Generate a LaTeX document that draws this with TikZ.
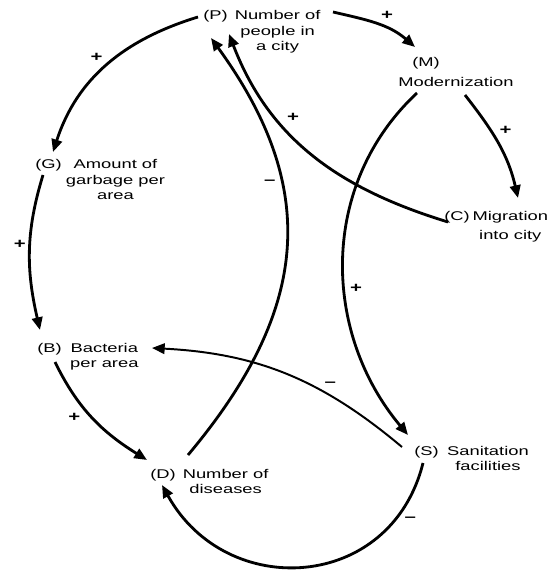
\documentclass[tikz,border=0pt]{standalone}
\usepackage{fontspec}
\setmainfont{Liberation Sans}[FakeStretch=1.45]
\usetikzlibrary{arrows.meta}

\begin{document}
\begin{tikzpicture}[x=0.025cm,y=0.025cm,auto,
		var/.style={anchor=base west,inner sep=0pt,font=\fontsize{9}{11}\selectfont},
		sign/.style={font=\bfseries\fontsize{10}{12}\selectfont,inner sep=2pt},
		marrow/.style={-{Triangle[length=9pt,width=7.5pt]},line width=2pt},
		tarrow/.style={marrow,line width=1.4pt}]
		\useasboundingbox (0,0) rectangle (553,-571);
		\node[var] (P) at (203,-20) {(P)\hspace{5pt}\begin{tabular}[t]{@{}c@{}}Number of\\people in\\a city\end{tabular}};
		\node[var] (M) at (398,-67) {\begin{tabular}[t]{@{}l@{}}\hspace*{10pt}(M)\\[3pt]Modernization\end{tabular}};
		\node[var] (G) at (35,-169) {(G)\hspace{3pt}\begin{tabular}[t]{@{}c@{}}Amount of\\garbage per\\area\end{tabular}};
		\node[var] (C) at (444,-220) {(C)\hspace{2pt}\begin{tabular}[t]{@{}c@{}}Migration\\[3pt]into city\end{tabular}};
		\node[var] (B) at (37,-352) {(B)\hspace{6pt}\begin{tabular}[t]{@{}c@{}}Bacteria\\per area\end{tabular}};
		\node[var] (S) at (414,-455) {(S)\hspace{6pt}\begin{tabular}[t]{@{}c@{}}Sanitation\\facilities\end{tabular}};
		\node[var] (D) at (150,-478) {(D)\hspace{5pt}\begin{tabular}[t]{@{}c@{}}Number of\\diseases\end{tabular}};

		% connection
		\draw [marrow] ([shift={(-5,3)}]P.base west) to [out=197,in=72] node [sign,swap] {+} ([shift={(18,17)}]G.base west);
		\draw [marrow] ([shift={(130,8)}]P.base west) to [out=-13,in=139] node [sign] {+} ([shift={(17,20)}]M.base west);
		\draw [marrow] ([shift={(67,-28)}]M.base west) to [out=-52,in=103] node [sign,pos=.45] {+} ([shift={(74,22)}]C.base west);
		\draw [marrow] ([shift={(19,-26)}]M.base west) to [out=223,in=130] node [sign,pos=.6] {+} ([shift={(-6,20)}]S.base west);
		\draw [marrow] ([shift={(4,-2)}]C.base west) to [out=163,in=291] node [sign,swap,pos=.65] {+} ([shift={(26,-14)}]P.base west);
		\draw [marrow] ([shift={(38,23)}]D.base west) to [out=50,in=306,looseness=1.15] node [sign,pos=.68] {--} ([shift={(8,-18)}]P.base west);
		\draw [marrow] ([shift={(8,-6)}]G.base west) to [out=253,in=103] node [sign,swap,pos=.45] {+} ([shift={(3,22)}]B.base west);
		\draw [marrow] ([shift={(18,-10)}]B.base west) to [out=-64,in=148] node [sign,swap,pos=.4] {+} ([shift={(-3,18)}]D.base west);
		\draw [tarrow] ([shift={(-12,8)}]S.base west) to [out=140,in=-3] node [sign,swap,pos=.35] {--} ([shift={(115,4)}]B.base west);
		\draw [marrow] ([shift={(9,-8)}]S.base west) to [out=256,in=299,looseness=1.3] node [sign,pos=.15] {--} ([shift={(12,-7)}]D.base west);
	\end{tikzpicture}
\end{document}
